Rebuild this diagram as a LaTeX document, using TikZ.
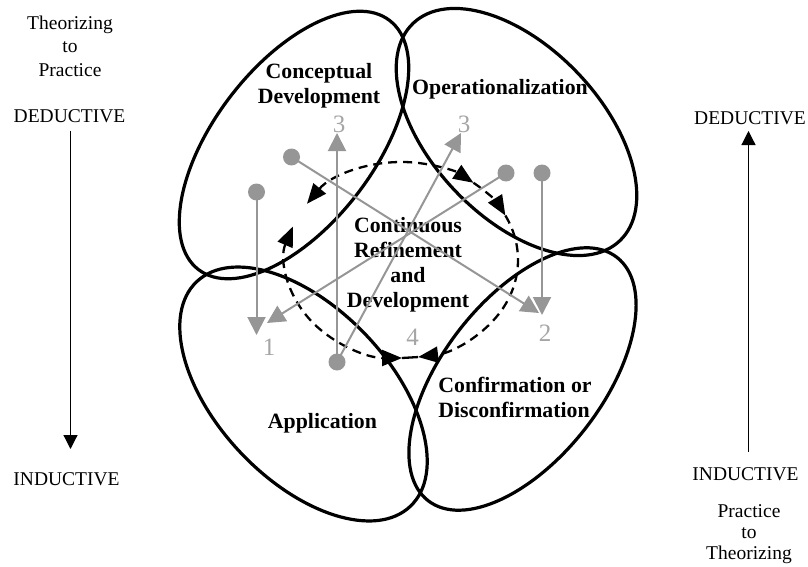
\documentclass[tikz,border=0pt]{standalone}
\usepackage{fontspec}
\setmainfont{Liberation Serif}
\usetikzlibrary{shapes.geometric,arrows.meta}
\definecolor{pathgray}{RGB}{150,150,150}
\definecolor{numgray}{RGB}{165,165,165}

\begin{document}
\begin{tikzpicture}[x=0.5pt,y=-0.5pt,
  region/.style={ellipse,draw=black,line width=1.6pt,inner sep=0pt,outer sep=0pt},
  stage/.style={font=\fontsize{10.9pt}{12.4pt}\selectfont\bfseries,anchor=base,inner sep=0pt},
  sidetext/.style={font=\fontsize{9.75pt}{11pt}\selectfont,anchor=base,inner sep=0pt},
  num/.style={font=\fontsize{12.5pt}{14pt}\selectfont,text=numgray,anchor=base,inner sep=0pt},
  dot/.style={circle,fill=pathgray,inner sep=0pt,minimum size=8.5pt},
  link/.style={draw=pathgray,line width=1pt,-{Triangle[length=9pt,width=9pt]}},
  cycleline/.style={draw=black,line width=1.15pt,dash pattern=on 4.5pt off 3pt},
  axis/.style={draw=black,line width=0.6pt,-{Triangle[length=7pt,width=7pt]}}
]
\useasboundingbox (0,0) rectangle (808,567);

% the four phases
\node[region,minimum width=157pt,minimum height=80pt,rotate=52.5] (cdev) at (294,145) {};
\node[region,minimum width=150pt,minimum height=85pt,rotate=-46.5] (oper) at (516.5,132) {};
\node[region,minimum width=155pt,minimum height=86pt,rotate=-46.4] (appl) at (303.5,394) {};
\node[region,minimum width=154pt,minimum height=80pt,rotate=52.2] (conf) at (522.5,379) {};

% dashed refinement cycle
\coordinate (cyc) at (402,260);
\draw[cycleline,{Triangle[length=10pt,width=8pt]}-{Triangle[length=10pt,width=8pt]}]
  (cyc) ++(145:58pt and 49pt) arc[start angle=145,end angle=52,x radius=58pt,y radius=49pt];
\draw[cycleline,-{Triangle[length=10pt,width=8pt]}]
  (cyc) ++(52:58pt and 49pt) arc[start angle=52,end angle=27,x radius=58pt,y radius=49pt];
\draw[cycleline,-{Triangle[length=10pt,width=8pt]}]
  (cyc) ++(27:58pt and 49pt) arc[start angle=27,end angle=-82,x radius=58pt,y radius=49pt];
\draw[cycleline,{Triangle[length=10pt,width=8pt]}-{Triangle[length=10pt,width=8pt]}]
  (cyc) ++(160:58pt and 49pt) arc[start angle=160,end angle=270,x radius=58pt,y radius=49pt];
\path (cyc) ++(270:58pt and 49pt) coordinate (m4l);
\path (cyc) ++(-82:58pt and 49pt) coordinate (m4r);
\draw[line width=1.15pt] (m4l) -- (m4r);

% phase labels
\node[stage] (cd1) at (319,78.5) {Conceptual};
\node[stage] (cd2) at (319,103.5) {Development};
\node[stage] (op) at (500,95) {Operationalization};
\node[stage] (cr1) at (408,232) {Continuous};
\node[stage] (cr2) at (408,257) {Refinement};
\node[stage] (cr3) at (408,282) {and};
\node[stage] (cr4) at (408,307) {Development};
\node[stage] (ap) at (322.5,428) {Application};
\node[stage] (cf1) at (515,392) {Confirmation or};
\node[stage] (cf2) at (514,417) {Disconfirmation};

% step numbers
\node[num] (n1) at (269,355) {1};
\node[num] (n2) at (545,341) {2};
\node[num] (n3a) at (339,133) {3};
\node[num] (n3b) at (464,133) {3};
\node[num] (n4) at (412.5,345) {4};

% movements between phases
\node[dot] (pA) at (256.5,192) {};
\node[dot] (pB) at (291.5,157) {};
\node[dot] (pC) at (506,173) {};
\node[dot] (pD) at (542,173) {};
\node[dot] (pE) at (337,362) {};
\coordinate (tA) at (256.5,335);
\coordinate (tB) at (539,313);
\coordinate (tC) at (267,323);
\coordinate (tD) at (542,315);
\coordinate (tE1) at (337,133);
\coordinate (tE2) at (461,133);
\draw[link] (pA.center) -- (tA);
\draw[link] (pB.center) -- (tB);
\draw[link] (pC.center) -- (tC);
\draw[link] (pD.center) -- (tD);
\draw[link] (pE.center) -- (tE1);
\draw[link] (pE.center) -- (tE2);

% left axis
\node[sidetext] (l1) at (70,30) {Theorizing};
\node[sidetext] (l2) at (70,53) {to};
\node[sidetext] (l3) at (70,76) {Practice};
\node[sidetext] (lded) at (69.5,123) {DEDUCTIVE};
\node[sidetext] (lind) at (66.5,485) {INDUCTIVE};
\coordinate (la1) at (70.5,131);
\coordinate (la2) at (70.5,449);
\draw[axis] (la1) -- (la2);

% right axis
\node[sidetext] (rded) at (750,125) {DEDUCTIVE};
\node[sidetext] (rind) at (745.5,480) {INDUCTIVE};
\node[sidetext] (r1) at (749,517) {Practice};
\node[sidetext] (r2) at (749,538) {to};
\node[sidetext] (r3) at (749,559) {Theorizing};
\coordinate (ra1) at (748.5,452);
\coordinate (ra2) at (748.5,131);
\draw[axis] (ra1) -- (ra2);
\end{tikzpicture}
\end{document}
